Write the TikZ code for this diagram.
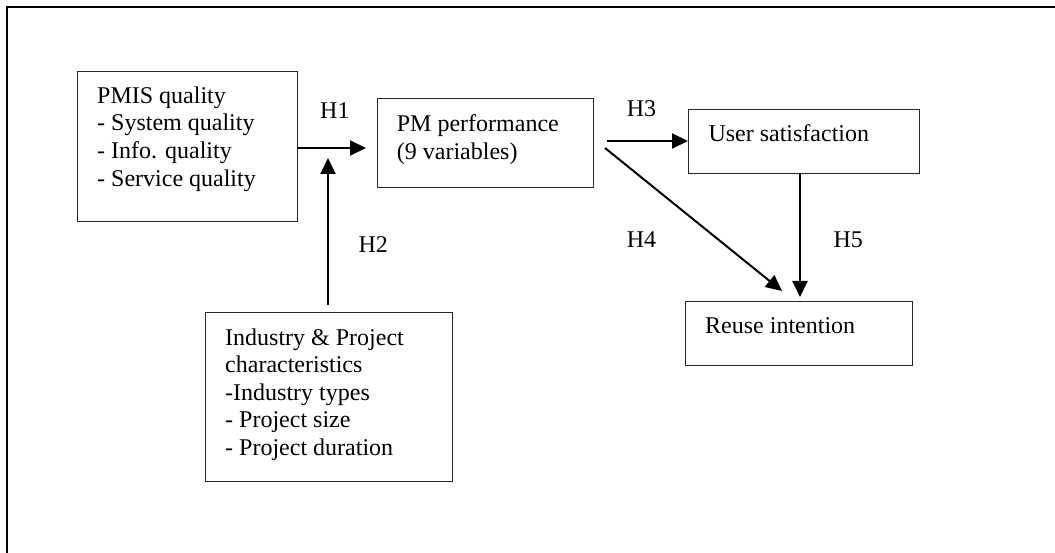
\documentclass[tikz,border=0pt]{standalone}
\usepackage{fontspec}
\setmainfont{Liberation Serif}
\usetikzlibrary{arrows.meta}
\tikzset{
  box/.style={draw=black!85, line width=1.1pt, rectangle, inner sep=0pt, anchor=north west},
  txt/.style={inner sep=0pt, anchor=base west, align=left, font=\fontsize{24}{27.6}\selectfont},
  arr/.style={line width=2pt, -{Triangle[length=16pt,width=15pt]}},
  frame/.style={line width=2.2pt}
}
\begin{document}
\begin{tikzpicture}[x=1pt,y=-1pt]
\useasboundingbox (0,0) rectangle (1055,553);
% outer frame (only top and left edges visible)
\draw[frame] (7,553) -- (7,7) -- (1055,7);
% boxes
\node[box, minimum width=220, minimum height=150] (pmis) at (77,71) {};
\node[box, minimum width=216, minimum height=89] (pm) at (377,98) {};
\node[box, minimum width=231, minimum height=64] (us) at (688,109) {};
\node[box, minimum width=227, minimum height=64] (ri) at (685,301) {};
\node[box, minimum width=247, minimum height=169] (ind) at (205,312) {};
% box texts (anchored at the baseline of their last line)
\node[txt] (pmist) at (97,186.1) {PMIS quality\\- System quality\\- Info. quality\\- Service quality};
\node[txt] (pmt) at (396.7,159.3) {PM performance\\(9 variables)};
\node[txt] (ust) at (708.3,141.7) {User satisfaction};
\node[txt] (rit) at (705,334) {Reuse intention};
\node[txt] (indt) at (225,455.4) {Industry \& Project\\characteristics\\-Industry types\\- Project size\\- Project duration};
% hypothesis labels
\node[txt] (h1) at (320,118.3) {H1};
\node[txt] (h2) at (358.3,253) {H2};
\node[txt] (h3) at (626.7,117) {H3};
\node[txt] (h4) at (626.7,248) {H4};
\node[txt] (h5) at (833.3,248) {H5};
% connector end points
\coordinate (h1e) at (366,148);
\coordinate (h2s) at (328,305);
\coordinate (h2e) at (328,158);
\coordinate (h3s) at (607,141);
\coordinate (h4s) at (605,148);
\coordinate (h4e) at (782,291);
\coordinate (h5e) at (800,297);
% connectors
\draw[arr] (pmis.east |- h1e) -- (h1e);
\draw[arr] (h2s) -- (h2e);
\draw[arr] (h3s) -- (us.west |- h3s);
\draw[arr] (h4s) -- (h4e);
\draw[arr] (us.south -| h5e) -- (h5e);
\end{tikzpicture}
\end{document}
